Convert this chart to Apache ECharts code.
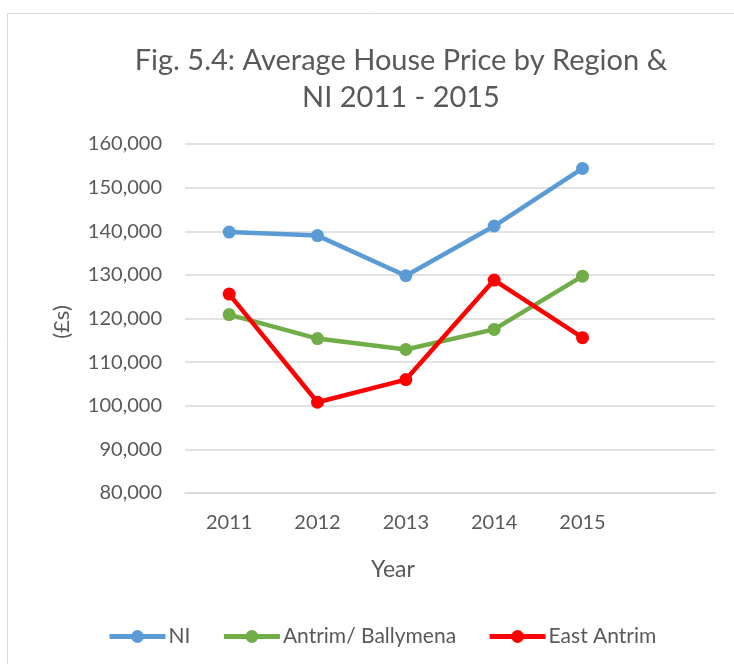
<!DOCTYPE html>
<html>
<head>
<meta charset="utf-8">
<script src="https://cdn.jsdelivr.net/npm/echarts@6/dist/echarts.min.js"></script>
<style>
  html, body { margin: 0; padding: 0; background: #fff; }
  #chart { width: 734px; height: 664px; }
</style>
</head>
<body>
<div id="chart"></div>
<script>
// categories (last slot left empty, like the original)
const years = ["2011", "2012", "2013", "2014", "2015", ""];
const niData = [139800, 139000, 129800, 141200, 154400];
const antrimBallymenaData = [120900, 115400, 112900, 117500, 129700];
const eastAntrimData = [125600, 100800, 106000, 128800, 115600];
const yTicks = { min: 80000, max: 160000, interval: 10000 };

const textColor = "#595959";
const fontFamily = "Lato, 'Open Sans', sans-serif";

const chart = echarts.init(document.getElementById("chart"));

function lineSeries(name, data, color) {
  return {
    name: name,
    type: "line",
    data: data,
    symbol: "circle",
    symbolSize: 13,
    lineStyle: { color: color, width: 4.5 },
    itemStyle: { color: color },
    animation: false
  };
}

chart.setOption({
  backgroundColor: "#fff",
  textStyle: { fontFamily: fontFamily },
  title: {
    text: "Fig. 5.4: Average House Price by Region &\nNI 2011 - 2015",
    left: 396,
    textAlign: "center",
    top: 37,
    textStyle: {
      color: textColor,
      fontSize: 29,
      fontWeight: "normal",
      lineHeight: 37,
      fontFamily: fontFamily
    }
  },
  grid: { left: 185, right: 19, top: 144, bottom: 171, containLabel: false },
  xAxis: {
    type: "category",
    data: years,
    boundaryGap: true,
    axisLine: { show: true, lineStyle: { color: "#d9d9d9", width: 1.5 } },
    axisTick: { show: false },
    axisLabel: { color: textColor, fontSize: 20, margin: 20 }
  },
  yAxis: {
    type: "value",
    min: yTicks.min,
    max: yTicks.max,
    interval: yTicks.interval,
    axisLine: { show: false },
    axisTick: { show: false },
    splitLine: { lineStyle: { color: "#d9d9d9", width: 1.5 } },
    axisLabel: {
      color: textColor,
      fontSize: 20,
      margin: 23,
      formatter: v => v.toLocaleString("en-GB")
    }
  },
  legend: {
    top: 621,
    left: 102,
    itemWidth: 56,
    itemHeight: 16,
    itemGap: 31,
    lineStyle: { width: 5 },
    textStyle: { color: textColor, fontSize: 21, padding: [0, 0, 0, -2] },
    data: ["NI", "Antrim/ Ballymena", "East Antrim"]
  },
  graphic: [
    {
      type: "rect",
      shape: { x: 7.5, y: 13.5, width: 760, height: 700 },
      style: { fill: "none", stroke: "#d9d9d9", lineWidth: 1 },
      silent: true
    },
    {
      type: "text",
      x: 393,
      y: 570,
      style: {
        text: "Year",
        fill: textColor,
        fontSize: 23,
        fontFamily: fontFamily,
        align: "center",
        verticalAlign: "middle"
      }
    },
    {
      type: "text",
      x: 62,
      y: 322,
      rotation: Math.PI / 2,
      style: {
        text: "(£s)",
        fill: textColor,
        fontSize: 22,
        fontFamily: fontFamily,
        align: "center",
        verticalAlign: "middle"
      }
    }
  ],
  series: [
    lineSeries("NI", niData, "#5b9bd5"),
    lineSeries("Antrim/ Ballymena", antrimBallymenaData, "#70ad47"),
    lineSeries("East Antrim", eastAntrimData, "#ff0000")
  ]
});
</script>
</body>
</html>
